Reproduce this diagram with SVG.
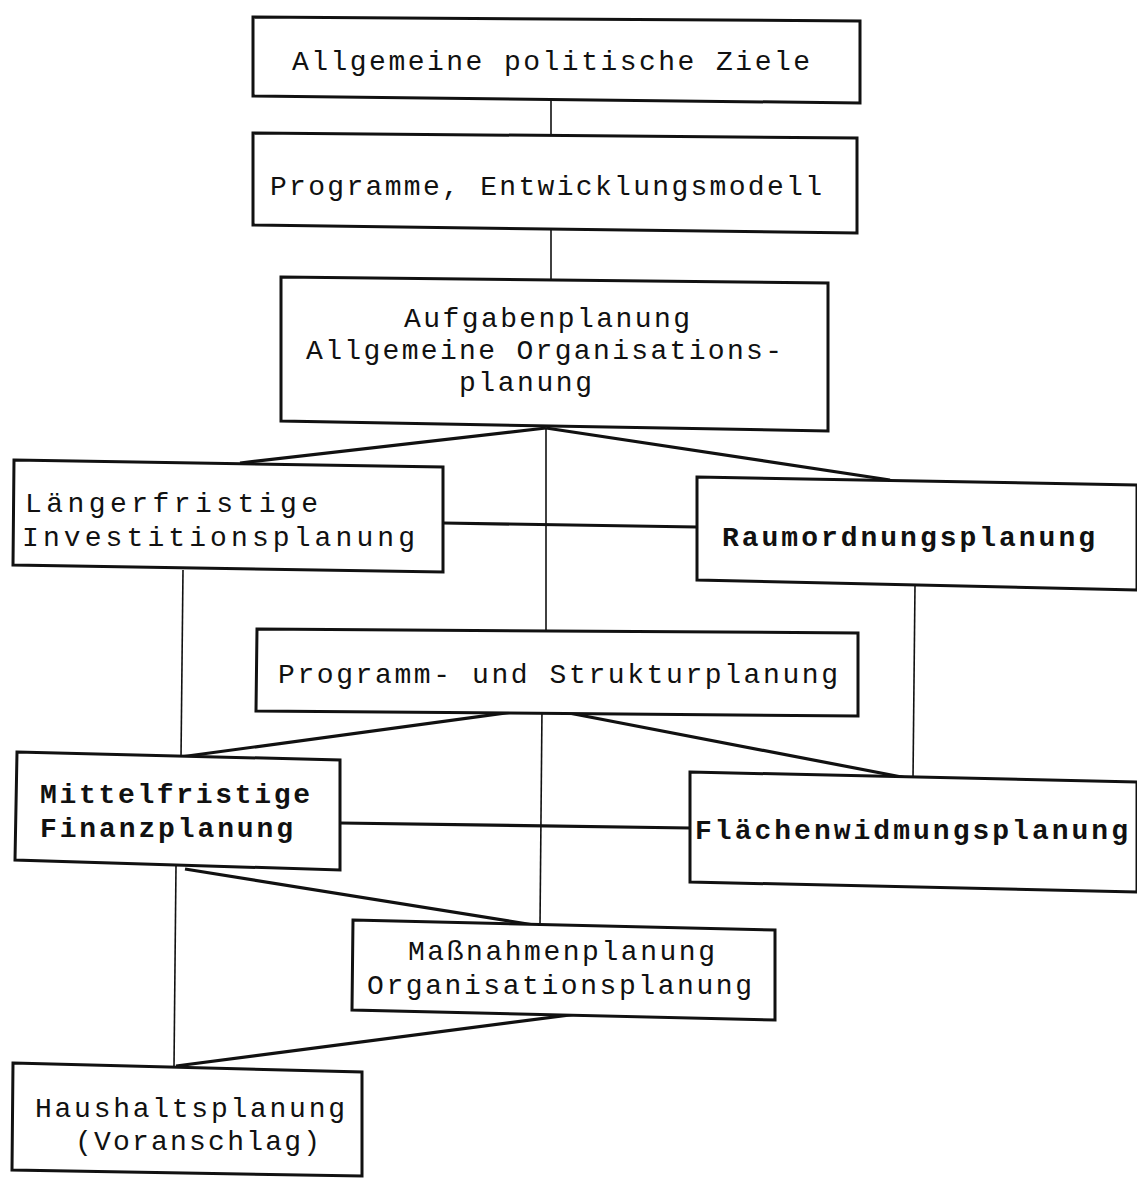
<svg xmlns="http://www.w3.org/2000/svg" width="1137" height="1178" viewBox="0 0 1137 1178">
<style>
.box{fill:#fff;stroke:#111;stroke-width:3;stroke-linejoin:miter}
.t{font-family:"Liberation Mono","Courier New",monospace;font-size:28px;fill:#111}
.b{font-weight:bold}
.thin{stroke:#111;stroke-width:1.6;fill:none}
.thick{stroke:#111;stroke-width:3.2;fill:none}
</style>
<rect x="0" y="0" width="1137" height="1178" fill="#fff"/>
<g id="connectors">
<line class="thin" x1="551" y1="100" x2="551" y2="136"/>
<line class="thin" x1="551" y1="230" x2="551" y2="280"/>
<line class="thick" x1="546" y1="428" x2="240" y2="463"/>
<line class="thick" x1="546" y1="428" x2="890" y2="480"/>
<line class="thin" x1="546" y1="428" x2="546" y2="632"/>
<line class="thick" x1="443" y1="523" x2="697" y2="527"/>
<line class="thin" x1="183" y1="570" x2="181" y2="758"/>
<line class="thin" x1="915" y1="585" x2="913" y2="779"/>
<line class="thick" x1="543" y1="708" x2="180" y2="757"/>
<line class="thick" x1="543" y1="708" x2="912" y2="779"/>
<line class="thin" x1="542" y1="708" x2="540" y2="926"/>
<line class="thick" x1="340" y1="823" x2="690" y2="828"/>
<line class="thick" x1="185" y1="869" x2="540" y2="926"/>
<line class="thin" x1="176" y1="866" x2="174" y2="1066"/>
<line class="thick" x1="577" y1="1014" x2="176" y2="1066"/>
</g>
<g id="n1">
<polygon class="box" points="253,17 860,21 860,103 253,96"/>
<text class="t" x="292" y="70" textLength="518" lengthAdjust="spacing">Allgemeine politische Ziele</text>
</g>
<g id="n2">
<polygon class="box" points="253,133 857,138 857,233 253,225"/>
<text class="t" x="270" y="195" textLength="552" lengthAdjust="spacing">Programme, Entwicklungsmodell</text>
</g>
<g id="n3">
<polygon class="box" points="281,277 828,283 828,431 281,421"/>
<text class="t" x="404" y="327" textLength="286" lengthAdjust="spacing">Aufgabenplanung</text>
<text class="t" x="306" y="359" textLength="476" lengthAdjust="spacing">Allgemeine Organisations-</text>
<text class="t" x="459" y="391" textLength="133" lengthAdjust="spacing">planung</text>
</g>
<g id="n4">
<polygon class="box" points="14,460 443,467 443,572 13,565"/>
<text class="t" x="25" y="512" textLength="293" lengthAdjust="spacing">Längerfristige</text>
<text class="t" x="22" y="546" textLength="393" lengthAdjust="spacing">Investitionsplanung</text>
</g>
<g id="n5">
<polygon class="box" points="697,477 1137,485 1137,590 697,580"/>
<text class="t b" x="722" y="546" textLength="373" lengthAdjust="spacing">Raumordnungsplanung</text>
</g>
<g id="n6">
<polygon class="box" points="257,629 858,633 858,716 256,711"/>
<text class="t" x="278" y="683" textLength="560" lengthAdjust="spacing">Programm- und Strukturplanung</text>
</g>
<g id="n7">
<polygon class="box" points="17,752 340,760 340,870 15,860"/>
<text class="t b" x="40" y="803" textLength="270" lengthAdjust="spacing">Mittelfristige</text>
<text class="t b" x="40" y="837" textLength="253" lengthAdjust="spacing">Finanzplanung</text>
</g>
<g id="n8">
<polygon class="box" points="690,772 1137,782 1137,892 690,882"/>
<text class="t b" x="695" y="839" textLength="433" lengthAdjust="spacing">Flächenwidmungsplanung</text>
</g>
<g id="n9">
<polygon class="box" points="353,920 775,930 775,1020 352,1010"/>
<text class="t" x="408" y="960" textLength="307" lengthAdjust="spacing">Maßnahmenplanung</text>
<text class="t" x="367" y="994" textLength="385" lengthAdjust="spacing">Organisationsplanung</text>
</g>
<g id="n10">
<polygon class="box" points="13,1063 362,1072 362,1176 12,1170"/>
<text class="t" x="35" y="1117" textLength="310" lengthAdjust="spacing">Haushaltsplanung</text>
<text class="t" x="75" y="1150" textLength="245" lengthAdjust="spacing">(Voranschlag)</text>
</g>
</svg>
